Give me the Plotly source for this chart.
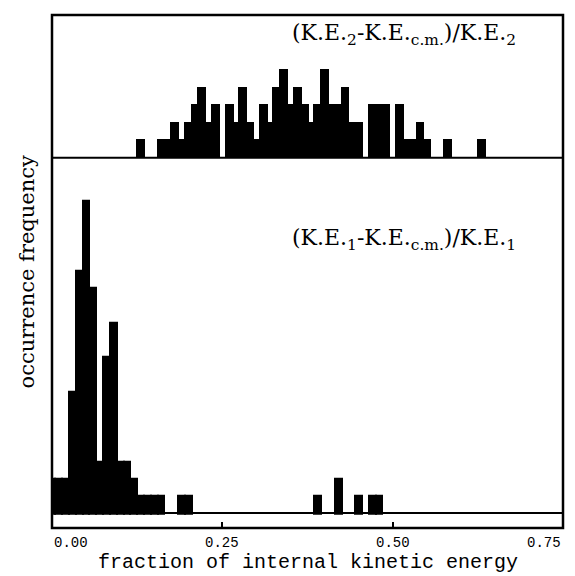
import plotly.graph_objects as go

# ---- data ----
BIN_WIDTH = 0.01

# upper panel: (K.E.2 - K.E.cm)/K.E.2
upper_bins = [0.13, 0.16, 0.17, 0.18, 0.19, 0.20, 0.21, 0.22, 0.23, 0.24,
              0.26, 0.27, 0.28, 0.29, 0.30, 0.31, 0.32, 0.33, 0.34, 0.35,
              0.36, 0.37, 0.38, 0.39, 0.40, 0.41, 0.42, 0.43, 0.44, 0.45,
              0.47, 0.48, 0.49, 0.51, 0.52, 0.53, 0.54, 0.55, 0.58, 0.63]
upper_counts = [1, 1, 1, 2, 1, 2, 3, 4, 2, 3,
                3, 2, 4, 2, 1, 3, 2, 4, 5, 3,
                4, 3, 2, 3, 5, 3, 3, 4, 2, 2,
                3, 3, 3, 3, 1, 1, 2, 1, 1, 1]

# lower panel: (K.E.1 - K.E.cm)/K.E.1
lower_bins = [0.00, 0.01, 0.02, 0.03, 0.04, 0.05, 0.06, 0.07, 0.08, 0.09,
              0.10, 0.11, 0.12, 0.13, 0.14, 0.15, 0.16, 0.19, 0.20,
              0.39, 0.42, 0.45, 0.47, 0.48]
lower_counts = [2, 2, 2, 7, 14, 18, 13, 3, 9, 11,
                3, 3, 2, 1, 1, 1, 1, 1, 1,
                1, 2, 1, 1, 1]

tick_vals = [0.0, 0.25, 0.50, 0.75]
tick_text = ["0.00", "0.25", "0.50", "0.75"]

upper_label = "(K.E.<sub>2</sub>-K.E.<sub>c.m.</sub>)/K.E.<sub>2</sub>"
lower_label = "(K.E.<sub>1</sub>-K.E.<sub>c.m.</sub>)/K.E.<sub>1</sub>"
x_title = "fraction of internal kinetic energy"
y_title = "occurrence frequency"

# ---- figure ----
SPLIT = 0.7218  # paper y of the divider line

fig = go.Figure()
bar_style = dict(marker=dict(color="black", line=dict(color="black", width=2)),
                 width=BIN_WIDTH, showlegend=False, hoverinfo="x+y")
fig.add_trace(go.Bar(x=lower_bins, y=lower_counts, xaxis="x", yaxis="y", **bar_style))
fig.add_trace(go.Bar(x=upper_bins, y=upper_counts, xaxis="x", yaxis="y2", **bar_style))

# the page places the figure at an 8px body offset
fig.update_layout(
    width=567, height=568,
    margin=dict(l=44, r=12, t=7, b=48),
    paper_bgcolor="white", plot_bgcolor="white",
    bargap=0,
    xaxis=dict(range=[0, 0.75], tickvals=tick_vals, showticklabels=False,
               ticks="inside", ticklen=6, tickwidth=1.5, tickcolor="black",
               showgrid=False, zeroline=False, showline=False, anchor="y"),
    yaxis=dict(domain=[0, SPLIT], range=[-0.847, 20.5], showticklabels=False,
               ticks="", showgrid=False, zeroline=True, zerolinecolor="black",
               zerolinewidth=2, showline=False),
    yaxis2=dict(domain=[SPLIT, 1], range=[0, 8.15], showticklabels=False,
                ticks="", showgrid=False, zeroline=False, showline=False,
                anchor="x"),
    shapes=[
        dict(type="rect", xref="paper", yref="paper", x0=0, x1=1, y0=0, y1=1,
             line=dict(color="black", width=2.5), layer="above"),
        dict(type="line", xref="paper", yref="paper", x0=0, x1=1, y0=SPLIT, y1=SPLIT,
             line=dict(color="black", width=2), layer="above"),
    ],
)

annotations = []
anchors = ["left", "center", "center", "right"]
for v, t, a in zip(tick_vals, tick_text, anchors):
    annotations.append(dict(x=v, y=-0.01, xref="x", yref="paper", text=t,
                            showarrow=False, xanchor=a, yanchor="top",
                            font=dict(family="Liberation Mono", size=14, color="black")))
annotations.append(dict(x=0.5, y=-0.068, xref="paper", yref="paper", text=x_title,
                        showarrow=False, xanchor="center", yanchor="middle",
                        font=dict(family="Liberation Mono", size=20, color="black")))
annotations.append(dict(x=-0.049, y=0.5, xref="paper", yref="paper", text=y_title,
                        showarrow=False, textangle=-90, xanchor="center", yanchor="middle",
                        font=dict(family="DejaVu Serif", size=21, color="black")))
annotations.append(dict(x=0.349, y=0.995, xref="x", yref="paper", text=upper_label,
                        showarrow=False, xanchor="left", yanchor="top",
                        font=dict(family="DejaVu Serif", size=22, color="black")))
annotations.append(dict(x=0.349, y=0.5945, xref="x", yref="paper", text=lower_label,
                        showarrow=False, xanchor="left", yanchor="top",
                        font=dict(family="DejaVu Serif", size=22, color="black")))
fig.update_layout(annotations=annotations)

fig.write_html("out.html")
